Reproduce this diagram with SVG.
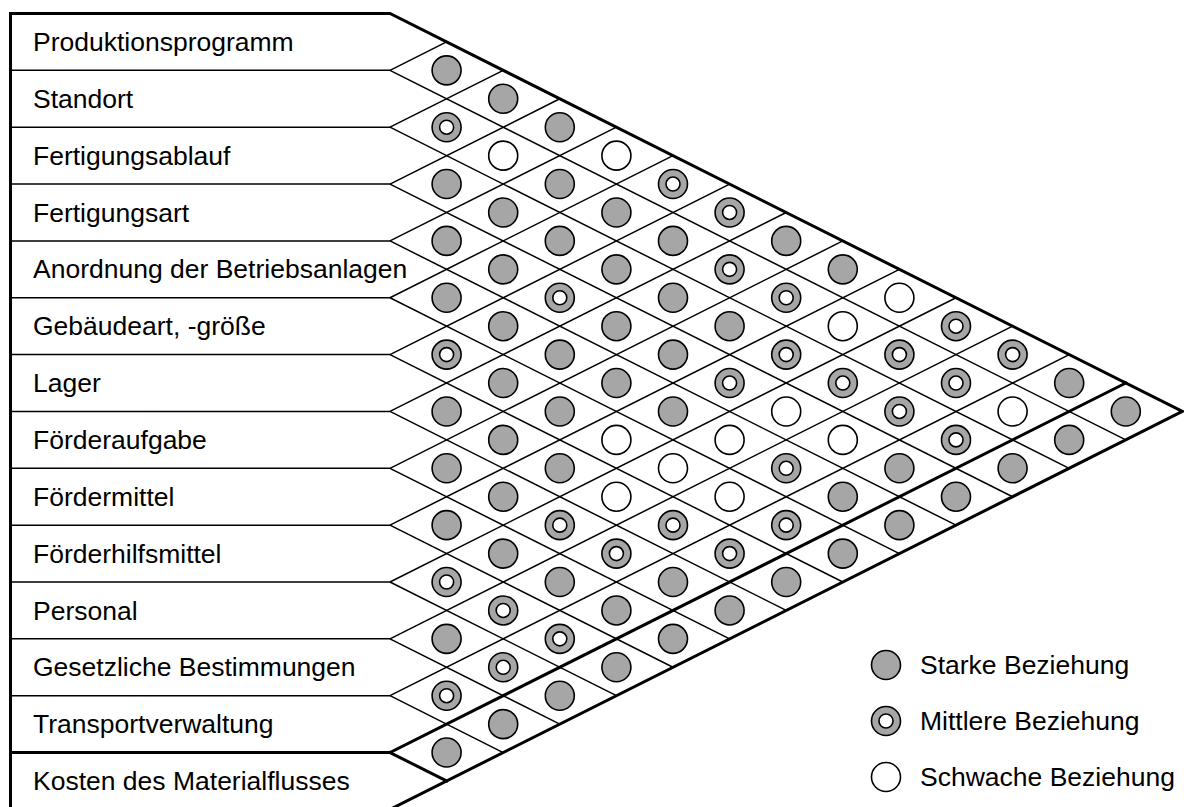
<svg xmlns="http://www.w3.org/2000/svg" xmlns:xlink="http://www.w3.org/1999/xlink" width="1184" height="807" viewBox="0 0 1184 807">
  <style>
    .label { font-family: "Liberation Sans", Arial, sans-serif; font-size: 26.5px; fill: #000; }
    .thin { stroke: #000; stroke-width: 1.5; fill: none; stroke-linecap: butt; }
    .thick { stroke: #000; stroke-width: 3; fill: none; stroke-linejoin: miter; stroke-linecap: square; }
    .fill-strong { fill: #a6a6a6; stroke: #000; stroke-width: 1.6; }
    .fill-weak { fill: #fff; stroke: #000; stroke-width: 1.6; }
  </style>
  <defs>
    <g id="dot-strong"><circle r="14.5" class="fill-strong"/></g>
    <g id="dot-medium"><circle r="14.5" class="fill-strong"/><circle r="7" class="fill-weak"/></g>
    <g id="dot-weak"><circle r="14.5" class="fill-weak"/></g>
  </defs>
  <rect width="1184" height="807" fill="#fff"/>

  <!-- grid: row separators and diagonal bands -->
  <g id="connectors">
    <!-- row separators -->
    <path class="thin" d="M10.5,70.35H390 M10.5,127.2H390 M10.5,184.05H390 M10.5,240.9H390 M10.5,297.75H390 M10.5,354.6H390 M10.5,411.45H390 M10.5,468.3H390 M10.5,525.15H390 M10.5,582H390 M10.5,638.85H390 M10.5,695.7H390"/>
    <!-- rising diagonals -->
    <path class="thin" d="M390,70.35L446.6,41.93 M390,127.2L503.2,70.35 M390,184.05L559.8,98.78 M390,240.9L616.4,127.2 M390,297.75L673,155.63 M390,354.6L729.6,184.05 M390,411.45L786.2,212.48 M390,468.3L842.8,240.9 M390,525.15L899.4,269.33 M390,582L956,297.75 M390,638.85L1012.6,326.18 M390,695.7L1069.2,354.6"/>
    <!-- falling diagonals -->
    <path class="thin" d="M390,70.35L1125.8,439.88 M390,127.2L1069.2,468.3 M390,184.05L1012.6,496.73 M390,240.9L956,525.15 M390,297.75L899.4,553.58 M390,354.6L842.8,582 M390,411.45L786.2,610.43 M390,468.3L729.6,638.85 M390,525.15L673,667.28 M390,582L616.4,695.7 M390,638.85L559.8,724.13 M390,695.7L503.2,752.55"/>
    <!-- outline and the cost band -->
    <path class="thick" d="M10.5,807V13.5H390L1182.4,411.45L390,809.4H10.5"/>
    <path class="thick" d="M10.5,752.55H390L1125.8,383.03 M390,752.55L446.6,780.98"/>
  </g>

  <!-- row labels -->
  <g id="row-produktionsprogramm"><text class="label" x="33" y="51">Produktionsprogramm</text></g>
  <g id="row-standort"><text class="label" x="33" y="107.9">Standort</text></g>
  <g id="row-fertigungsablauf"><text class="label" x="33" y="164.7">Fertigungsablauf</text></g>
  <g id="row-fertigungsart"><text class="label" x="33" y="221.6">Fertigungsart</text></g>
  <g id="row-anordnung"><text class="label" x="33" y="278.4">Anordnung der Betriebsanlagen</text></g>
  <g id="row-gebaeude"><text class="label" x="33" y="335.3">Gebäudeart, -größe</text></g>
  <g id="row-lager"><text class="label" x="33" y="392.1">Lager</text></g>
  <g id="row-foerderaufgabe"><text class="label" x="33" y="449">Förderaufgabe</text></g>
  <g id="row-foerdermittel"><text class="label" x="33" y="505.8">Fördermittel</text></g>
  <g id="row-foerderhilfsmittel"><text class="label" x="33" y="562.7">Förderhilfsmittel</text></g>
  <g id="row-personal"><text class="label" x="33" y="619.5">Personal</text></g>
  <g id="row-gesetze"><text class="label" x="33" y="676.4">Gesetzliche Bestimmungen</text></g>
  <g id="row-transportverwaltung"><text class="label" x="33" y="733.2">Transportverwaltung</text></g>
  <g id="row-kosten"><text class="label" x="33" y="790.1">Kosten des Materialflusses</text></g>

  <!-- relationship marks, one per pair of rows -->
  <g id="cells">
    <use href="#dot-strong" x="446.6" y="70.35"/>
    <use href="#dot-strong" x="503.2" y="98.78"/>
    <use href="#dot-medium" x="446.6" y="127.2"/>
    <use href="#dot-strong" x="559.8" y="127.2"/>
    <use href="#dot-weak" x="503.2" y="155.63"/>
    <use href="#dot-weak" x="616.4" y="155.63"/>
    <use href="#dot-strong" x="446.6" y="184.05"/>
    <use href="#dot-strong" x="559.8" y="184.05"/>
    <use href="#dot-medium" x="673" y="184.05"/>
    <use href="#dot-strong" x="503.2" y="212.48"/>
    <use href="#dot-strong" x="616.4" y="212.48"/>
    <use href="#dot-medium" x="729.6" y="212.48"/>
    <use href="#dot-strong" x="446.6" y="240.9"/>
    <use href="#dot-strong" x="559.8" y="240.9"/>
    <use href="#dot-strong" x="673" y="240.9"/>
    <use href="#dot-strong" x="786.2" y="240.9"/>
    <use href="#dot-strong" x="503.2" y="269.33"/>
    <use href="#dot-strong" x="616.4" y="269.33"/>
    <use href="#dot-medium" x="729.6" y="269.33"/>
    <use href="#dot-strong" x="842.8" y="269.33"/>
    <use href="#dot-strong" x="446.6" y="297.75"/>
    <use href="#dot-medium" x="559.8" y="297.75"/>
    <use href="#dot-strong" x="673" y="297.75"/>
    <use href="#dot-medium" x="786.2" y="297.75"/>
    <use href="#dot-weak" x="899.4" y="297.75"/>
    <use href="#dot-strong" x="503.2" y="326.18"/>
    <use href="#dot-strong" x="616.4" y="326.18"/>
    <use href="#dot-strong" x="729.6" y="326.18"/>
    <use href="#dot-weak" x="842.8" y="326.18"/>
    <use href="#dot-medium" x="956" y="326.18"/>
    <use href="#dot-medium" x="446.6" y="354.6"/>
    <use href="#dot-strong" x="559.8" y="354.6"/>
    <use href="#dot-strong" x="673" y="354.6"/>
    <use href="#dot-medium" x="786.2" y="354.6"/>
    <use href="#dot-medium" x="899.4" y="354.6"/>
    <use href="#dot-medium" x="1012.6" y="354.6"/>
    <use href="#dot-strong" x="503.2" y="383.03"/>
    <use href="#dot-strong" x="616.4" y="383.03"/>
    <use href="#dot-medium" x="729.6" y="383.03"/>
    <use href="#dot-medium" x="842.8" y="383.03"/>
    <use href="#dot-medium" x="956" y="383.03"/>
    <use href="#dot-strong" x="1069.2" y="383.03"/>
    <use href="#dot-strong" x="446.6" y="411.45"/>
    <use href="#dot-strong" x="559.8" y="411.45"/>
    <use href="#dot-strong" x="673" y="411.45"/>
    <use href="#dot-weak" x="786.2" y="411.45"/>
    <use href="#dot-medium" x="899.4" y="411.45"/>
    <use href="#dot-weak" x="1012.6" y="411.45"/>
    <use href="#dot-strong" x="1125.8" y="411.45"/>
    <use href="#dot-strong" x="503.2" y="439.88"/>
    <use href="#dot-weak" x="616.4" y="439.88"/>
    <use href="#dot-weak" x="729.6" y="439.88"/>
    <use href="#dot-weak" x="842.8" y="439.88"/>
    <use href="#dot-medium" x="956" y="439.88"/>
    <use href="#dot-strong" x="1069.2" y="439.88"/>
    <use href="#dot-strong" x="446.6" y="468.3"/>
    <use href="#dot-strong" x="559.8" y="468.3"/>
    <use href="#dot-weak" x="673" y="468.3"/>
    <use href="#dot-medium" x="786.2" y="468.3"/>
    <use href="#dot-strong" x="899.4" y="468.3"/>
    <use href="#dot-strong" x="1012.6" y="468.3"/>
    <use href="#dot-strong" x="503.2" y="496.73"/>
    <use href="#dot-weak" x="616.4" y="496.73"/>
    <use href="#dot-weak" x="729.6" y="496.73"/>
    <use href="#dot-strong" x="842.8" y="496.73"/>
    <use href="#dot-strong" x="956" y="496.73"/>
    <use href="#dot-strong" x="446.6" y="525.15"/>
    <use href="#dot-medium" x="559.8" y="525.15"/>
    <use href="#dot-medium" x="673" y="525.15"/>
    <use href="#dot-medium" x="786.2" y="525.15"/>
    <use href="#dot-strong" x="899.4" y="525.15"/>
    <use href="#dot-strong" x="503.2" y="553.58"/>
    <use href="#dot-medium" x="616.4" y="553.58"/>
    <use href="#dot-medium" x="729.6" y="553.58"/>
    <use href="#dot-strong" x="842.8" y="553.58"/>
    <use href="#dot-medium" x="446.6" y="582"/>
    <use href="#dot-strong" x="559.8" y="582"/>
    <use href="#dot-strong" x="673" y="582"/>
    <use href="#dot-strong" x="786.2" y="582"/>
    <use href="#dot-medium" x="503.2" y="610.43"/>
    <use href="#dot-strong" x="616.4" y="610.43"/>
    <use href="#dot-strong" x="729.6" y="610.43"/>
    <use href="#dot-strong" x="446.6" y="638.85"/>
    <use href="#dot-medium" x="559.8" y="638.85"/>
    <use href="#dot-strong" x="673" y="638.85"/>
    <use href="#dot-medium" x="503.2" y="667.28"/>
    <use href="#dot-strong" x="616.4" y="667.28"/>
    <use href="#dot-medium" x="446.6" y="695.7"/>
    <use href="#dot-strong" x="559.8" y="695.7"/>
    <use href="#dot-strong" x="503.2" y="724.13"/>
    <use href="#dot-strong" x="446.6" y="752.55"/>
  </g>

  <!-- legend -->
  <g id="legend-strong">
    <use href="#dot-strong" x="886" y="665"/>
    <text class="label" x="920" y="674">Starke Beziehung</text>
  </g>
  <g id="legend-medium">
    <use href="#dot-medium" x="886" y="721"/>
    <text class="label" x="920" y="730">Mittlere Beziehung</text>
  </g>
  <g id="legend-weak">
    <use href="#dot-weak" x="886" y="777"/>
    <text class="label" x="920" y="786">Schwache Beziehung</text>
  </g>
</svg>
